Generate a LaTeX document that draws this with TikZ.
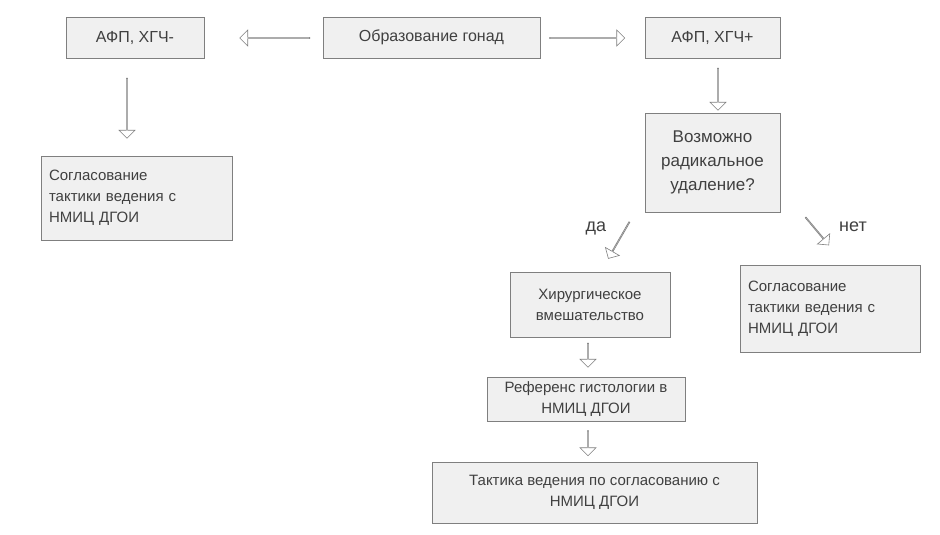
\documentclass[tikz,border=0pt]{standalone}
\usepackage{fontspec}
\setmainfont{Liberation Sans}
\usetikzlibrary{shapes.arrows}
\definecolor{bfill}{HTML}{F0F0F0}
\definecolor{bdraw}{HTML}{7F7F7F}
\definecolor{txt}{HTML}{404040}
\begin{document}
\begin{tikzpicture}[x=1pt,y=-1pt,
  box/.style={draw=bdraw,fill=bfill,text=txt,inner sep=0pt,align=center,font=\fontsize{16}{20}\selectfont},
  sbox/.style={box,font=\fontsize{15}{21}\selectfont},
  arr/.style={single arrow,draw=bdraw,fill=white,line width=0.6pt,single arrow head extend=4pt,minimum width=16pt,inner sep=0pt,single arrow head indent=0pt},
  lab/.style={text=txt,font=\fontsize{18}{22}\selectfont}]
\useasboundingbox (0,0) rectangle (940,535);
\node[box,minimum width=138pt,minimum height=41pt] (neg) at (135,37.5) {АФП, ХГЧ-};
\node[box,minimum width=217pt,minimum height=41pt] (gon) at (431.5,37.5) {Образование гонад};
\node[box,minimum width=135pt,minimum height=41pt] (pos) at (712.5,37.5) {АФП, ХГЧ+};
\node[sbox,minimum width=191pt,minimum height=84pt,align=left,text width=175pt] (sl) at (136.5,198) {Согласование\\тактики ведения с\\НМИЦ ДГОИ};
\node[box,minimum width=135pt,minimum height=99pt,font=\fontsize{17}{24}\selectfont] (q) at (712.5,162.5) {Возможно\\радикальное\\удаление?};
\node[sbox,minimum width=180pt,minimum height=87pt,align=left,text width=164pt] (sr) at (830,308.5) {Согласование\\тактики ведения с\\НМИЦ ДГОИ};
\node[sbox,minimum width=160pt,minimum height=65pt] (hir) at (590,304.5) {Хирургическое\\вмешательство};
\node[sbox,minimum width=198pt,minimum height=44pt] (ref) at (586,399) {Референс гистологии в\\НМИЦ ДГОИ};
\node[sbox,minimum width=325pt,minimum height=61pt] (tak) at (594.5,492.5) {Тактика ведения по согласованию с\\НМИЦ ДГОИ};
\node[arr,minimum height=70pt,rotate=180] (a1) at (275,38) {};
\node[arr,minimum height=75pt] (a2) at (587,38) {};
\node[arr,minimum height=60pt,rotate=-90] (a3) at (127,108) {};
\node[arr,minimum height=42pt,rotate=-90] (a4) at (718,89) {};
\node[arr,minimum height=42pt,rotate=-120] (a5) at (619,240) {};
\node[arr,minimum height=36pt,rotate=-50] (a6) at (817,231) {};
\node[arr,minimum height=24pt,rotate=-90] (a7) at (588,355) {};
\node[arr,minimum height=25pt,rotate=-90] (a8) at (588,443) {};
\node[lab] (da) at (596,228) {да};
\node[lab] (net) at (853,227) {нет};
\end{tikzpicture}
\end{document}
